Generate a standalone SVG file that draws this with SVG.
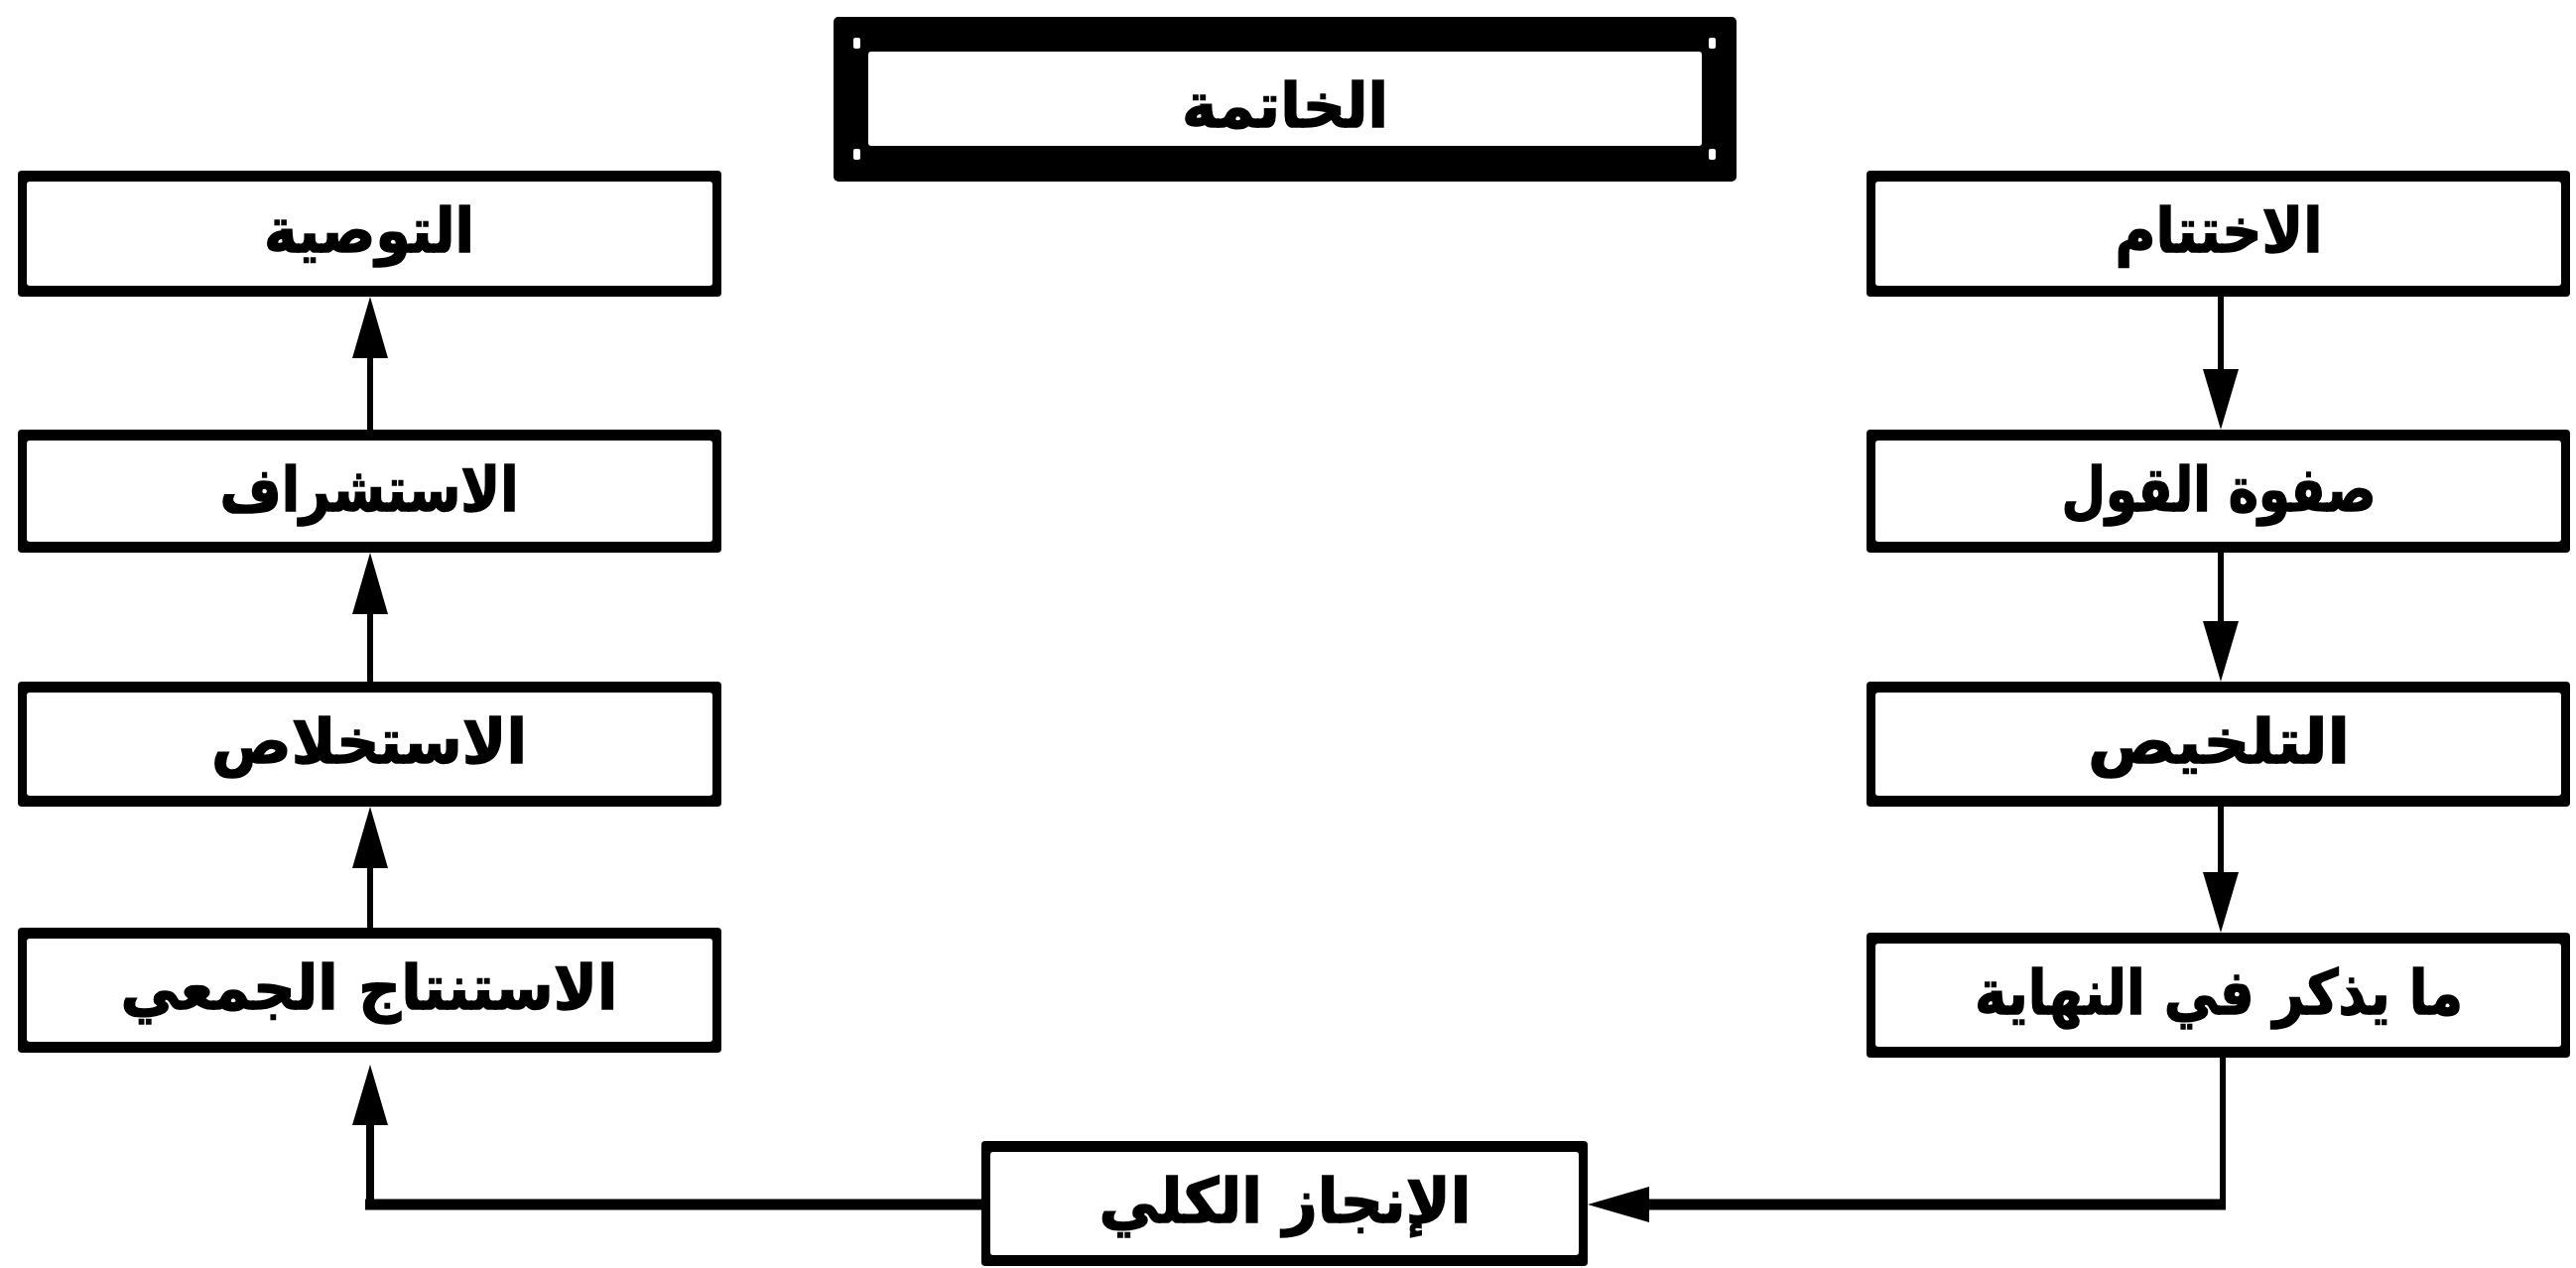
<svg xmlns="http://www.w3.org/2000/svg" width="2596" height="1278" viewBox="0 0 2596 1278">
<style>
.frame{fill:#000}
.inner{fill:#fff}
.lbl{font-family:"DejaVu Sans",sans-serif;font-weight:bold;font-size:62px;text-anchor:middle;fill:#000;stroke:#000;stroke-width:1.5}
.ln{stroke:#000;stroke-width:6;fill:none}
.lnb{stroke:#000;stroke-width:11;fill:none}
.hd{fill:#000}
</style>
<rect width="2596" height="1278" fill="#fff"/>
<g id="title">
<rect class="frame" x="840" y="17" width="910" height="166" rx="5"/>
<rect class="inner" x="875" y="52" width="840" height="95" rx="3"/>
<rect class="inner" x="860" y="38" width="7" height="11" rx="2"/>
<rect class="inner" x="860" y="150" width="7" height="11" rx="2"/>
<rect class="inner" x="1722" y="38" width="7" height="11" rx="2"/>
<rect class="inner" x="1722" y="150" width="7" height="11" rx="2"/>
<text class="lbl" x="1295" y="128" textLength="208" lengthAdjust="spacingAndGlyphs">الخاتمة</text>
</g>
<g id="n-tawsiya">
<rect class="frame" x="18" y="172" width="709" height="127" rx="4"/>
<rect class="inner" x="27" y="183" width="691" height="105" rx="3"/>
<text class="lbl" x="372" y="254" textLength="212" lengthAdjust="spacingAndGlyphs">التوصية</text>
</g>
<g id="n-istishraf">
<rect class="frame" x="18" y="433" width="709" height="124" rx="4"/>
<rect class="inner" x="27" y="444" width="691" height="102" rx="3"/>
<text class="lbl" x="372" y="515" textLength="301" lengthAdjust="spacingAndGlyphs">الاستشراف</text>
</g>
<g id="n-istikhlas">
<rect class="frame" x="18" y="687" width="709" height="126" rx="4"/>
<rect class="inner" x="27" y="698" width="691" height="104" rx="3"/>
<text class="lbl" x="372" y="769" textLength="318" lengthAdjust="spacingAndGlyphs">الاستخلاص</text>
</g>
<g id="n-istintaj">
<rect class="frame" x="18" y="935" width="709" height="126" rx="4"/>
<rect class="inner" x="27" y="946" width="691" height="104" rx="3"/>
<text class="lbl" x="372" y="1017" textLength="501" lengthAdjust="spacingAndGlyphs">الاستنتاج الجمعي</text>
</g>
<g id="n-ikhtitam">
<rect class="frame" x="1881" y="172" width="709" height="127" rx="4"/>
<rect class="inner" x="1890" y="183" width="691" height="105" rx="3"/>
<text class="lbl" x="2236" y="254" textLength="209" lengthAdjust="spacingAndGlyphs">الاختتام</text>
</g>
<g id="n-safwa">
<rect class="frame" x="1881" y="433" width="709" height="124" rx="4"/>
<rect class="inner" x="1890" y="444" width="691" height="102" rx="3"/>
<text class="lbl" x="2236" y="515" textLength="317" lengthAdjust="spacingAndGlyphs">صفوة القول</text>
</g>
<g id="n-talkhis">
<rect class="frame" x="1881" y="687" width="709" height="126" rx="4"/>
<rect class="inner" x="1890" y="698" width="691" height="104" rx="3"/>
<text class="lbl" x="2236" y="769" textLength="264" lengthAdjust="spacingAndGlyphs">التلخيص</text>
</g>
<g id="n-yudhkar">
<rect class="frame" x="1881" y="940" width="709" height="126" rx="4"/>
<rect class="inner" x="1890" y="951" width="691" height="104" rx="3"/>
<text class="lbl" x="2236" y="1022" textLength="492" lengthAdjust="spacingAndGlyphs">ما يذكر في النهاية</text>
</g>
<g id="n-injaz">
<rect class="frame" x="989" y="1150" width="611" height="126" rx="4"/>
<rect class="inner" x="998" y="1161" width="593" height="104" rx="3"/>
<text class="lbl" x="1295" y="1232" textLength="375" lengthAdjust="spacingAndGlyphs">الإنجاز الكلي</text>
</g>
<g id="connectors">
<line class="ln" x1="373" y1="433" x2="373" y2="359"/>
<polygon class="hd" points="373,299 355,361 391,361"/>
<line class="ln" x1="373" y1="687" x2="373" y2="617"/>
<polygon class="hd" points="373,557 355,619 391,619"/>
<line class="ln" x1="373" y1="935" x2="373" y2="873"/>
<polygon class="hd" points="373,813 355,875 391,875"/>
<line class="ln" x1="2238" y1="299" x2="2238" y2="374"/>
<polygon class="hd" points="2238,433 2220,372 2256,372"/>
<line class="ln" x1="2238" y1="557" x2="2238" y2="628"/>
<polygon class="hd" points="2238,687 2220,626 2256,626"/>
<line class="ln" x1="2238" y1="813" x2="2238" y2="881"/>
<polygon class="hd" points="2238,940 2220,879 2256,879"/>
<line class="ln" x1="2240" y1="1066" x2="2240" y2="1219"/>
<line class="lnb" x1="2243" y1="1214" x2="1660" y2="1214"/>
<polygon class="hd" points="1600,1214 1662,1196 1662,1232"/>
<line class="lnb" x1="989" y1="1214" x2="368" y2="1214"/>
<line class="ln" x1="373" y1="1219" x2="373" y2="1132" style="stroke-width:8"/>
<polygon class="hd" points="373,1073 355,1134 391,1134"/>
</g>
</svg>
